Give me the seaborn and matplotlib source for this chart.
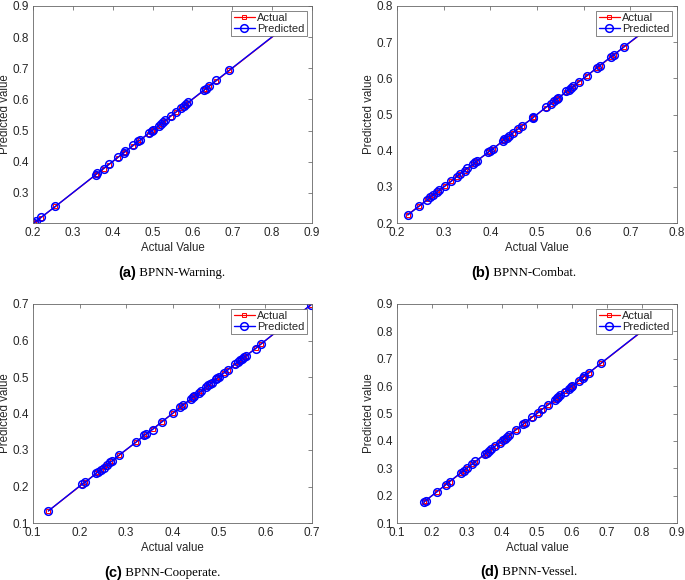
import matplotlib
matplotlib.use("Agg")
import matplotlib.pyplot as plt
import numpy as np
import pandas as pd
import seaborn as sns

# ---------------------------------------------------------
# Data
# ---------------------------------------------------------

warning_actual = [0.2025, 0.207, 0.220, 0.256, 0.357, 0.361, 0.377, 0.390, 0.413,
                  0.428, 0.432, 0.451, 0.464, 0.468, 0.490, 0.498, 0.502, 0.515,
                  0.520, 0.527, 0.532, 0.545, 0.560, 0.572, 0.578, 0.583, 0.590,
                  0.630, 0.634, 0.642, 0.660, 0.693, 0.860]
warning_pred = [0.2030, 0.208, 0.221, 0.256, 0.358, 0.362, 0.378, 0.391, 0.414,
                0.429, 0.433, 0.452, 0.465, 0.469, 0.491, 0.499, 0.503, 0.516,
                0.521, 0.528, 0.533, 0.546, 0.561, 0.573, 0.579, 0.584, 0.591,
                0.631, 0.635, 0.643, 0.661, 0.694, 0.861]

combat_actual = [0.223, 0.247, 0.265, 0.271, 0.278, 0.286, 0.291, 0.302, 0.316,
                 0.328, 0.335, 0.345, 0.350, 0.363, 0.368, 0.371, 0.395, 0.399,
                 0.405, 0.427, 0.430, 0.435, 0.441, 0.449, 0.459, 0.467, 0.491,
                 0.492, 0.519, 0.530, 0.537, 0.542, 0.546, 0.563, 0.568, 0.573,
                 0.578, 0.590, 0.607, 0.628, 0.634, 0.658, 0.665, 0.687, 0.760]
combat_pred = [0.222, 0.246, 0.264, 0.271, 0.278, 0.286, 0.292, 0.301, 0.315,
               0.328, 0.336, 0.344, 0.351, 0.362, 0.368, 0.372, 0.395, 0.400,
               0.404, 0.427, 0.431, 0.436, 0.441, 0.450, 0.460, 0.468, 0.490,
               0.492, 0.520, 0.530, 0.538, 0.542, 0.545, 0.564, 0.569, 0.572,
               0.578, 0.591, 0.607, 0.629, 0.635, 0.659, 0.665, 0.688, 0.760]

coop_actual = [0.133, 0.205, 0.212, 0.236, 0.239, 0.246, 0.253, 0.260, 0.265,
               0.269, 0.285, 0.321, 0.339, 0.344, 0.357, 0.377, 0.402, 0.417,
               0.423, 0.440, 0.444, 0.447, 0.457, 0.462, 0.472, 0.476, 0.480,
               0.484, 0.493, 0.496, 0.500, 0.511, 0.519, 0.534, 0.541, 0.546,
               0.549, 0.554, 0.557, 0.579, 0.590, 0.640, 0.698]
coop_pred = [0.133, 0.206, 0.211, 0.236, 0.240, 0.246, 0.252, 0.260, 0.266,
             0.269, 0.286, 0.321, 0.340, 0.345, 0.356, 0.377, 0.402, 0.417,
             0.424, 0.440, 0.445, 0.447, 0.456, 0.462, 0.473, 0.477, 0.480,
             0.483, 0.494, 0.497, 0.500, 0.512, 0.520, 0.535, 0.542, 0.546,
             0.550, 0.555, 0.557, 0.578, 0.590, 0.641, 0.698]

vessel_actual = [0.177, 0.182, 0.214, 0.239, 0.250, 0.282, 0.291, 0.300, 0.315,
                 0.324, 0.350, 0.356, 0.362, 0.368, 0.381, 0.394, 0.402, 0.408,
                 0.413, 0.420, 0.440, 0.461, 0.465, 0.485, 0.503, 0.514, 0.532,
                 0.551, 0.557, 0.561, 0.566, 0.581, 0.591, 0.597, 0.601, 0.620,
                 0.631, 0.635, 0.649, 0.683, 0.830]
vessel_pred = [0.177, 0.182, 0.214, 0.240, 0.251, 0.283, 0.291, 0.301, 0.315,
               0.325, 0.351, 0.356, 0.362, 0.369, 0.382, 0.394, 0.402, 0.408,
               0.414, 0.420, 0.441, 0.461, 0.466, 0.486, 0.503, 0.515, 0.532,
               0.551, 0.558, 0.561, 0.566, 0.580, 0.591, 0.597, 0.602, 0.620,
               0.631, 0.636, 0.649, 0.684, 0.831]

panels = [
    ("(a)", " BPNN-Warning.", "Actual Value", warning_actual, warning_pred,
     (0.2, 0.9), (min(warning_pred), 0.9), np.arange(0.2, 0.91, 0.1), np.arange(0.3, 0.91, 0.1)),
    ("(b)", " BPNN-Combat.", "Actual Value", combat_actual, combat_pred,
     (0.2, 0.8), (0.2, 0.8), np.arange(0.2, 0.81, 0.1), np.arange(0.2, 0.81, 0.1)),
    ("(c)", " BPNN-Cooperate.", "Actual value", coop_actual, coop_pred,
     (0.1, 0.7), (0.1, 0.7), np.arange(0.1, 0.71, 0.1), np.arange(0.1, 0.71, 0.1)),
    ("(d)", " BPNN-Vessel.", "Actual value", vessel_actual, vessel_pred,
     (0.1, 0.9), (0.1, 0.9), np.arange(0.1, 0.91, 0.1), np.arange(0.1, 0.91, 0.1)),
]

# ---------------------------------------------------------
# Layout (pixel-based positions, figure 685x580)
# ---------------------------------------------------------

W, H = 685, 580
axes_px = [(33, 6, 279, 217), (397, 6, 280, 217), (33, 304, 279, 219), (397, 304, 280, 219)]
caption_px = [(136, 273), (490, 273), (122, 573), (499, 572)]

sns.set_style("white")
plt.rcParams["font.family"] = ["Liberation Sans", "DejaVu Sans"]
TXT = "#262626"

fig = plt.figure(figsize=(W / 100, H / 100), dpi=100)

for (tag, name, xlab, act, pred, xlim, ylim, xt, yt), (l, t, w, h), (cx, cy) in zip(panels, axes_px, caption_px):
    ax = fig.add_axes([l / W, 1 - (t + h) / H, w / W, h / H])
    df = pd.DataFrame({"actual": act, "pred": pred})

    sns.lineplot(data=df, x="actual", y="actual", ax=ax, color="red", lw=0.9,
                 marker="s", markersize=2.5, markerfacecolor="none",
                 markeredgecolor="red", markeredgewidth=0.7,
                 estimator=None, label="Actual")
    sns.lineplot(data=df, x="actual", y="pred", ax=ax, color="blue", lw=1.0,
                 marker="o", markersize=5.5, markerfacecolor="none",
                 markeredgecolor="blue", markeredgewidth=1.1,
                 estimator=None, label="Predicted")

    ax.set_xlim(*xlim)
    ax.set_ylim(*ylim)
    ax.set_xticks(xt)
    ax.set_yticks(yt)
    ax.set_xticklabels([f"{v:.1f}" for v in xt])
    ax.set_yticklabels([f"{v:.1f}" for v in yt])
    ax.tick_params(direction="in", length=3, width=0.5, colors="#555555",
                   labelcolor=TXT, labelsize=8.5, top=True, right=True, pad=3)
    for s in ax.spines.values():
        s.set_color("#666666")
        s.set_linewidth(0.6)
    ax.set_xlabel(xlab, fontsize=8.3, color=TXT, labelpad=2)
    ax.set_ylabel("Predicted value", fontsize=8.3, color=TXT, labelpad=1)

    leg = ax.legend(loc="upper right", fontsize=8, frameon=True, fancybox=False,
                    framealpha=1, borderpad=0.2, labelspacing=0.05, handlelength=1.9,
                    handletextpad=0.25, borderaxespad=0.45)
    leg.get_frame().set_edgecolor("#555555")
    leg.get_frame().set_linewidth(0.5)

    fig.text(cx / W, 1 - cy / H, tag, ha="right", va="center", fontsize=10.5,
             fontweight="bold", family="Liberation Sans", color="black")
    fig.text(cx / W, 1 - cy / H, name, ha="left", va="center", fontsize=9.3,
             family="Liberation Serif", color="black")

fig.savefig("out.png", dpi=100)
